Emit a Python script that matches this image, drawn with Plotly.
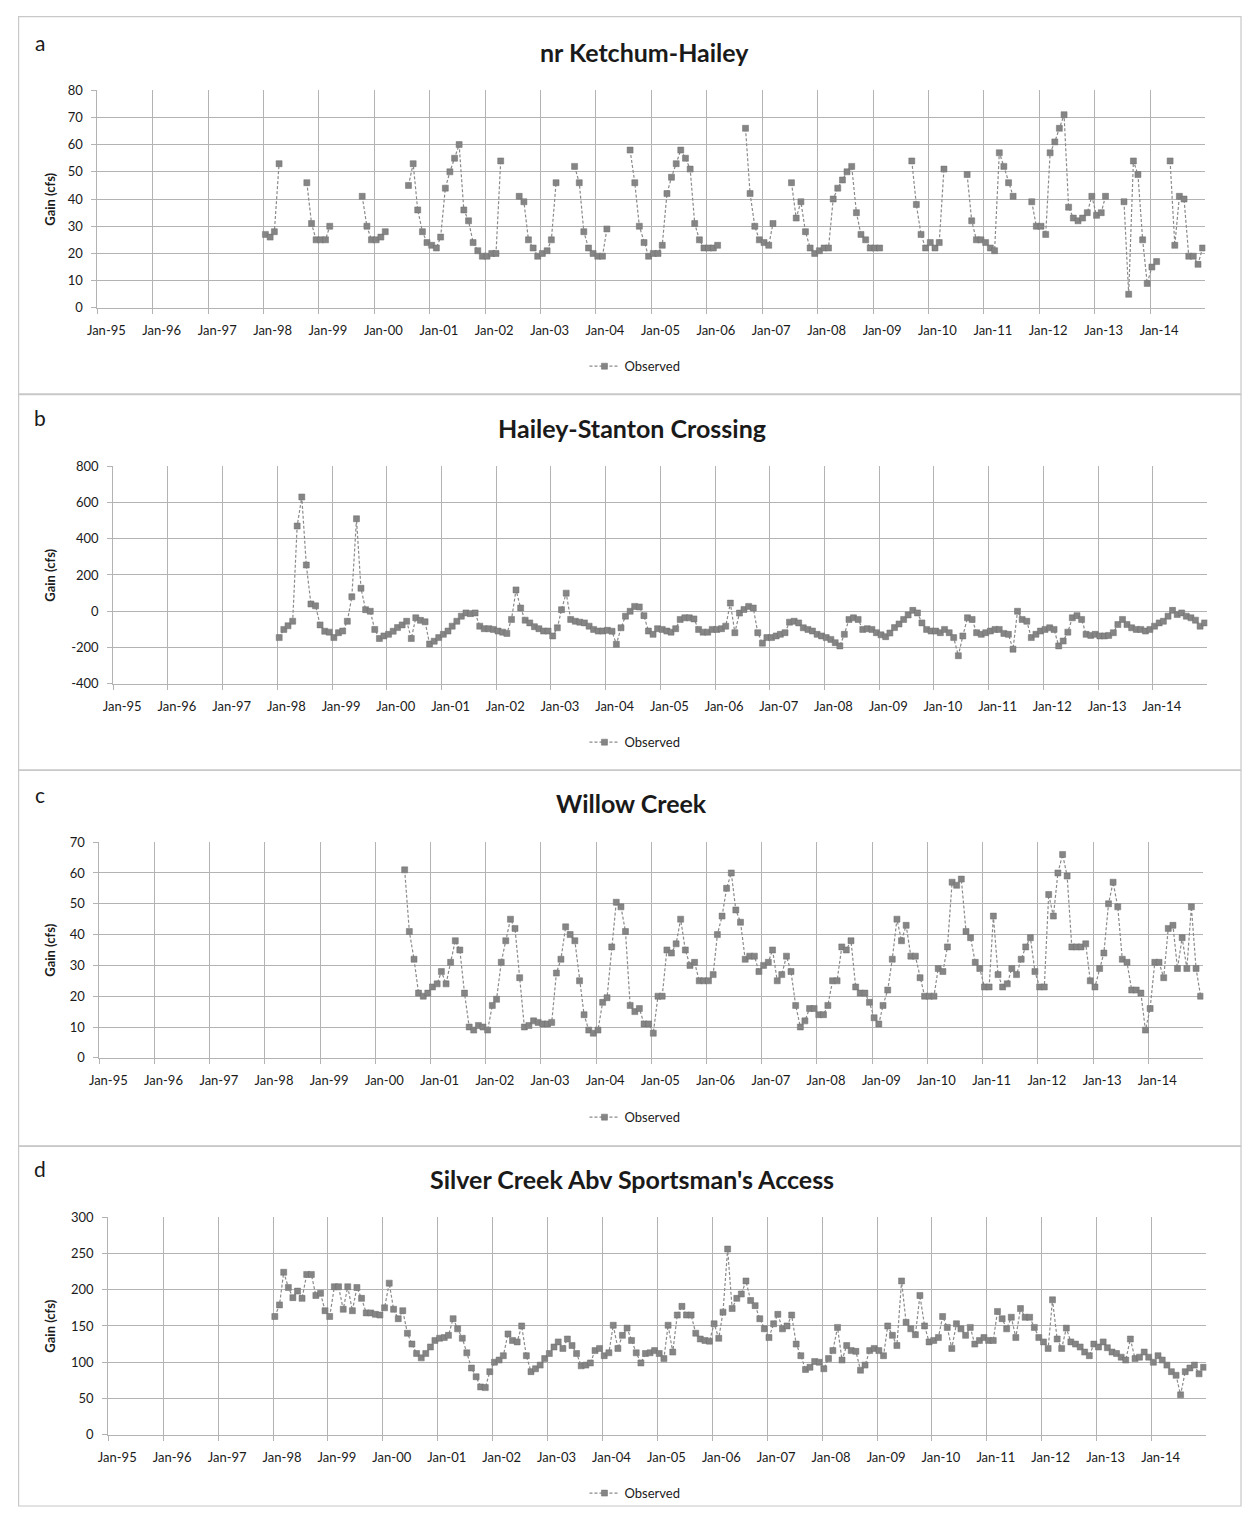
import pandas as pd
import plotly.graph_objects as go

N = None

# ---------------- data (monthly observed gain, cfs) ----------------
# nr Ketchum-Hailey, monthly from Jan-1998
ketchum_hailey = [
    27, 26, 28, 53, N, N, N, N, N, 46, 31, 25,      # 1998
    25, 25, 30, N, N, N, N, N, N, 41, 30, 25,       # 1999
    25, 26, 28, N, N, N, N, 45, 53, 36, 28, 24,     # 2000
    23, 22, 26, 44, 50, 55, 60, 36, 32, 24, 21, 19, # 2001
    19, 20, 20, 54, N, N, N, 41, 39, 25, 22, 19,    # 2002
    20, 21, 25, 46, N, N, N, 52, 46, 28, 22, 20,    # 2003
    19, 19, 29, N, N, N, N, 58, 46, 30, 24, 19,     # 2004
    20, 20, 23, 42, 48, 53, 58, 55, 51, 31, 25, 22, # 2005
    22, 22, 23, N, N, N, N, N, 66, 42, 30, 25,      # 2006
    24, 23, 31, N, N, N, 46, 33, 39, 28, 22, 20,    # 2007
    21, 22, 22, 40, 44, 47, 50, 52, 35, 27, 25, 22, # 2008
    22, 22, N, N, N, N, N, N, 54, 38, 27, 22,       # 2009
    24, 22, 24, 51, N, N, N, N, 49, 32, 25, 25,     # 2010
    24, 22, 21, 57, 52, 46, 41, N, N, N, 39, 30,    # 2011
    30, 27, 57, 61, 66, 71, 37, 33, 32, 33, 35, 41, # 2012
    34, 35, 41, N, N, N, 39, 5, 54, 49, 25, 9,      # 2013
    15, 17, N, N, 54, 23, 41, 40, 19, 19, 16, 22,   # 2014
]

# Hailey-Stanton Crossing, monthly from Jan-1998
hailey_stanton = [
    -145, -100, -80, -55, 470, 630, 255, 40, 30, -75, -110, -115,    # 1998
    -145, -118, -109, -55, 80, 510, 127, 9, 0, -100, -150, -136,     # 1999
    -127, -110, -90, -75, -55, -150, -36, -50, -58, -180, -165, -145,  # 2000
    -127, -109, -82, -55, -27, -9, -13, -9, -82, -96, -96, -100,     # 2001
    -109, -115, -122, -45, 118, 18, -49, -64, -85, -96, -109, -109,  # 2002
    -136, -91, 9, 100, -45, -55, -60, -64, -82, -100, -109, -109,    # 2003
    -105, -110, -182, -91, -27, 0, 27, 24, -24, -109, -127, -96,     # 2004
    -100, -109, -115, -96, -45, -36, -36, -42, -100, -115, -115, -100,  # 2005
    -100, -96, -82, 45, -118, -10, 10, 27, 18, -118, -176, -145,     # 2006
    -145, -136, -127, -118, -60, -55, -64, -91, -100, -109, -127, -136,  # 2007
    -145, -155, -173, -191, -127, -45, -36, -45, -100, -96, -100, -118,  # 2008
    -130, -140, -120, -90, -70, -45, -20, 5, -9, -64, -100, -109,    # 2009
    -109, -118, -100, -118, -145, -245, -136, -36, -45, -118, -127, -118,  # 2010
    -109, -100, -100, -122, -127, -209, 0, -45, -55, -145, -127, -109,  # 2011
    -100, -91, -100, -191, -164, -115, -36, -24, -45, -127, -133, -127,  # 2012
    -136, -136, -133, -118, -73, -45, -73, -91, -100, -100, -109, -100,  # 2013
    -82, -64, -55, -27, 5, -18, -9, -27, -36, -49, -82, -64,         # 2014
]

# Willow Creek, monthly from Jan-2000
willow_creek = [
    N, N, N, N, N, N, 61, 41, 32, 21, 20, 21,          # 2000
    23, 24, 28, 24, 31, 38, 35, 21, 10, 9, 10.5, 10,   # 2001
    9, 17, 19, 31, 38, 45, 42, 26, 10, 10.5, 12, 11.5, # 2002
    11, 11, 11.5, 27.5, 32, 42.5, 40, 38, 25, 14, 9, 8,  # 2003
    9, 18, 19.5, 36, 50.5, 49, 41, 17, 15, 16, 11, 11, # 2004
    8, 20, 20, 35, 34, 37, 45, 35, 30, 31, 25, 25,     # 2005
    25, 27, 40, 46, 55, 60, 48, 44, 32, 33, 33, 28,    # 2006
    30, 31, 35, 25, 27, 33, 28, 17, 10, 12, 16, 16,    # 2007
    14, 14, 17, 25, 25, 36, 35, 38, 23, 21, 21, 18,    # 2008
    13, 11, 17, 22, 32, 45, 38, 43, 33, 33, 26, 20,    # 2009
    20, 20, 29, 28, 36, 57, 56, 58, 41, 39, 31, 29,    # 2010
    23, 23, 46, 27, 23, 24, 29, 27, 32, 36, 39, 28,    # 2011
    23, 23, 53, 46, 60, 66, 59, 36, 36, 36, 37, 25,    # 2012
    23, 29, 34, 50, 57, 49, 32, 31, 22, 22, 21, 9,     # 2013
    16, 31, 31, 26, 42, 43, 29, 39, 29, 49, 29, 20,    # 2014
]

# Silver Creek Abv Sportsman's Access, monthly from Jan-1998
silver_creek = [
    163, 179, 224, 203, 189, 198, 188, 221, 221, 192, 195, 171,  # 1998
    163, 204, 204, 173, 204, 171, 203, 188, 168, 168, 166, 165,  # 1999
    175, 209, 173, 160, 171, 140, 125, 112, 106, 112, 121, 130,  # 2000
    133, 134, 137, 160, 146, 133, 113, 92, 80, 66, 65, 87,       # 2001
    100, 103, 109, 139, 130, 128, 150, 109, 87, 91, 96, 105,     # 2002
    112, 121, 128, 119, 132, 123, 112, 95, 96, 99, 116, 119,     # 2003
    109, 113, 151, 119, 137, 147, 130, 113, 99, 112, 113, 116,   # 2004
    112, 105, 151, 114, 165, 177, 165, 165, 140, 132, 130, 129,  # 2005
    153, 133, 169, 256, 174, 188, 194, 212, 185, 178, 160, 146,  # 2006
    134, 153, 166, 146, 150, 165, 125, 109, 90, 93, 101, 100,    # 2007
    91, 105, 116, 148, 103, 123, 116, 115, 89, 96, 116, 119,     # 2008
    116, 109, 150, 137, 123, 212, 155, 146, 138, 192, 150, 128,  # 2009
    130, 134, 163, 148, 119, 153, 146, 137, 148, 125, 130, 134,  # 2010
    130, 130, 170, 160, 146, 162, 134, 174, 162, 162, 148, 134,  # 2011
    128, 119, 186, 132, 119, 147, 128, 125, 121, 114, 109, 125,  # 2012
    121, 128, 120, 114, 112, 107, 103, 132, 105, 107, 114, 107,  # 2013
    100, 109, 103, 96, 87, 82, 55, 87, 92, 96, 84, 93,           # 2014
]

series_starts = ["1998-01-01", "1998-01-01", "2000-01-01", "1998-01-01"]
titles = ["nr Ketchum-Hailey", "Hailey-Stanton Crossing", "Willow Creek",
          "Silver Creek Abv Sportsman's Access"]
letters = ["a", "b", "c", "d"]
series_name = "Observed"
y_title = "Gain (cfs)"
y_ticks = [
    list(range(0, 81, 10)),
    list(range(-400, 801, 200)),
    list(range(0, 71, 10)),
    list(range(0, 301, 50)),
]

# ---------------- layout geometry ----------------
# Positions below are page pixels of the 1250x1523 window; the page keeps the
# browser's default 8px body margin, so the figure is 1234x1507.
PAGE_OFF = 8
W, H = 1234, 1507


def fx(px):
    return (px - PAGE_OFF) / W


def fy(py):
    return 1 - (py - PAGE_OFF) / H


panels = [
    dict(vals=ketchum_hailey, plot=(88, 1205, 83, 303), yr=(0, 80),
         tx=640, ty=44, ly=35, gy=362, box=(8, 390)),
    dict(vals=hailey_stanton, plot=(104, 1207, 463, 683), yr=(-400, 800),
         tx=627, ty=424, ly=414, gy=742, box=(390, 770)),
    dict(vals=willow_creek, plot=(90, 1203, 843, 1061), yr=(0, 70),
         tx=627, ty=803, ly=795, gy=1121, box=(770, 1150)),
    dict(vals=silver_creek, plot=(99, 1206, 1222, 1442), yr=(0, 300),
         tx=627, ty=1183, ly=1173, gy=1501, box=(1150, 1514)),
]

FONT = "Lato"
GRID = "#b3b3b3"
MARK = "#858585"
TXT = "#1a1a1a"

fig = go.Figure()
annotations = []
shapes = []
layout_axes = {}

for i, p in enumerate(panels):
    n = i + 1
    xs = "" if n == 1 else str(n)
    x0, x1, y0, y1 = p["plot"]
    dates = pd.date_range(series_starts[i], periods=len(p["vals"]), freq="MS") + pd.Timedelta(days=12)
    legend_id = "legend" if n == 1 else f"legend{n}"
    fig.add_trace(go.Scatter(
        x=dates, y=p["vals"], mode="lines+markers", name=series_name,
        xaxis="x" + xs, yaxis="y" + xs, legend=legend_id, showlegend=True,
        line=dict(color="#8a8a8a", width=1.2, dash="3px,2px"),
        marker=dict(symbol="square", size=6, color=MARK,
                    line=dict(color="#6e6e6e", width=0.5)),
        connectgaps=False,
    ))
    layout_axes["xaxis" + xs] = dict(
        domain=[fx(x0), fx(x1)], anchor="y" + xs, type="date",
        range=["1995-01-01", "2014-12-31"], dtick="M12", tick0="1995-01-01",
        tickformat="%b-%y", showgrid=True, gridcolor=GRID, gridwidth=1,
        showline=True, linecolor=GRID, linewidth=1,
        ticks="outside", ticklen=5, tickcolor=GRID,
        tickfont=dict(family=FONT, size=13, color=TXT),
        ticklabelshift=9, ticklabelstandoff=6, zeroline=False,
    )
    layout_axes["yaxis" + xs] = dict(
        domain=[fy(y1), fy(y0)], anchor="x" + xs,
        range=list(p["yr"]), tickmode="array",
        tickvals=y_ticks[i], ticktext=[str(v) for v in y_ticks[i]],
        showgrid=True, gridcolor=GRID, gridwidth=1,
        showline=True, linecolor=GRID, linewidth=1,
        ticks="outside", ticklen=5, tickcolor=GRID,
        tickfont=dict(family=FONT, size=13, color=TXT),
        ticklabelstandoff=6, zeroline=False,
    )
    layout_axes[legend_id] = dict(
        x=fx(630), y=fy(p["gy"]), xanchor="center", yanchor="middle",
        orientation="h", bgcolor="rgba(0,0,0,0)",
        font=dict(family=FONT, size=13, color=TXT),
    )
    annotations.append(dict(
        text=f"<b>{titles[i]}</b>", x=fx(p["tx"]), y=fy(p["ty"]),
        xref="paper", yref="paper", showarrow=False, xanchor="center", yanchor="middle",
        font=dict(family=FONT, size=25, color=TXT),
    ))
    annotations.append(dict(
        text=letters[i], x=fx(30), y=fy(p["ly"]),
        xref="paper", yref="paper", showarrow=False, xanchor="center", yanchor="middle",
        font=dict(family=FONT, size=21, color=TXT),
    ))
    annotations.append(dict(
        text=f"<b>{y_title}</b>", x=fx(40), y=fy((y0 + y1) / 2),
        xref="paper", yref="paper", showarrow=False, xanchor="center", yanchor="middle",
        textangle=-90, font=dict(family=FONT, size=13, color=TXT),
    ))
    b0, b1 = p["box"]
    shapes.append(dict(
        type="rect", xref="paper", yref="paper",
        x0=fx(8.6), x1=fx(1241), y0=fy(b1), y1=fy(b0 + 0.6),
        line=dict(color="#c8c8c8", width=1.2), fillcolor="rgba(0,0,0,0)",
    ))

fig.update_layout(
    width=W, height=H, autosize=False, showlegend=True,
    margin=dict(l=0, r=0, t=0, b=0),
    paper_bgcolor="white", plot_bgcolor="white",
    annotations=annotations, shapes=shapes,
    **layout_axes,
)

fig.write_html("out.html", config={"displayModeBar": False})
